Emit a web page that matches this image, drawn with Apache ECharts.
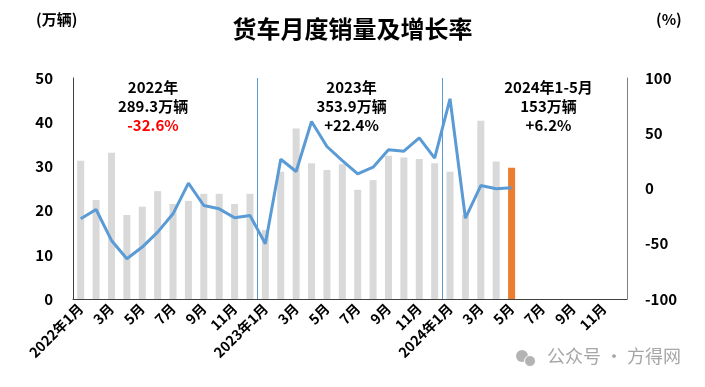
<!DOCTYPE html>
<html><head><meta charset="utf-8">
<script src="https://cdn.jsdelivr.net/npm/echarts/dist/echarts.min.js"></script>
<style>html,body{margin:0;padding:0;background:#fff}#c{width:705px;height:387px}</style>
</head><body><div id="c"></div>
<script>
const months = [
 '2022年1月','2022年2月','2022年3月','2022年4月','2022年5月','2022年6月','2022年7月','2022年8月','2022年9月','2022年10月','2022年11月','2022年12月',
 '2023年1月','2023年2月','2023年3月','2023年4月','2023年5月','2023年6月','2023年7月','2023年8月','2023年9月','2023年10月','2023年11月','2023年12月',
 '2024年1月','2024年2月','2024年3月','2024年4月','2024年5月','2024年6月','2024年7月','2024年8月','2024年9月','2024年10月','2024年11月','2024年12月'];
const sales = [31.3,22.4,33.1,19.0,20.9,24.4,21.5,22.2,23.8,23.8,21.5,23.8,
  15.6,28.8,38.6,30.7,29.2,30.5,24.7,26.9,32.4,32.0,31.7,30.7,
  28.8,19.0,40.3,31.1,29.7,null,null,null,null,null,null,null];
const growth = [-27.4,-19.0,-47.0,-63.6,-53.0,-39.5,-22.9,4.8,-15.4,-18.4,-26.5,-24.4,
  -50.0,26.5,15.4,60.6,38.0,25.3,13.3,19.3,35.0,33.8,45.9,27.5,
  81.2,-26.9,2.7,-0.3,0.6,null,null,null,null,null,null,null];
const highlightMonth = '2024年5月';
const yearBreaks = [12, 24];
const leftTicks = {min:0, max:50, interval:10};
const rightTicks = {min:-100, max:100, interval:50};
const notes = [
  {lines:['2022年','289.3万辆','-32.6%'], red:true, at:5.2},
  {lines:['2023年','353.9万辆','+22.4%'], red:false, at:18.1},
  {lines:['2024年1-5月','153万辆','+6.2%'], red:false, at:30.9}
];

const FONT = '"Noto Sans CJK SC","Noto Sans",sans-serif';
const chart = echarts.init(document.getElementById('c'), null, {renderer:'canvas'});

const barData = sales.map((v,i)=> months[i]===highlightMonth
  ? {value:v, itemStyle:{color:'#ed7d31'}} : v);

const option = {
  animation:false,
  backgroundColor:'#fff',
  textStyle:{fontFamily:FONT},
  grid:{left:73, right:78, top:78, bottom:88, outerBoundsMode:'none', containLabel:false},
  graphic:[
    {type:'text', left:'center', top:17, style:{text:'货车月度销量及增长率', font:'bold 24px '+FONT, fill:'#000'}},
    {type:'text', left:36, top:12, style:{text:'(万辆)', font:'bold 15px '+FONT, fill:'#000'}},
    {type:'text', left:656, top:12, style:{text:'(%)', font:'bold 15px '+FONT, fill:'#000'}},
    {type:'circle', shape:{cx:522, cy:356, r:6}, style:{fill:'#b3b3b3'}},
    {type:'circle', shape:{cx:530, cy:361, r:5.5}, style:{fill:'#b3b3b3', stroke:'#fff', lineWidth:1}},
    {type:'text', left:547, top:347, style:{text:'公众号 · 方得网', font:'18px '+FONT, fill:'#a6a6a6'}}
  ],
  xAxis:[
    {type:'category', data:months, boundaryGap:true,
     axisLine:{show:true, lineStyle:{color:'#404040', width:1}},
     axisTick:{show:false},
     axisLabel:{interval:1, rotate:45, margin:7, color:'#000', fontWeight:'bold', fontSize:14, fontFamily:FONT,
       formatter:(v)=>{const m=v.split('年')[1]; return m==='1月'? v : m;}},
     splitLine:{show:false}},
    {type:'value', min:0, max:36, show:false}
  ],
  yAxis:[
    {type:'value', min:leftTicks.min, max:leftTicks.max, interval:leftTicks.interval, position:'left',
     axisLine:{show:true, lineStyle:{color:'#404040'}}, axisTick:{show:false}, splitLine:{show:false},
     axisLabel:{color:'#000', fontWeight:'bold', fontSize:15, margin:20, fontFamily:FONT}},
    {type:'value', min:rightTicks.min, max:rightTicks.max, interval:rightTicks.interval, position:'right',
     axisLine:{show:true, lineStyle:{color:'#7f7f7f'}}, axisTick:{show:false}, splitLine:{show:false},
     axisLabel:{color:'#000', fontWeight:'bold', fontSize:15, margin:18, fontFamily:FONT}}
  ],
  series:[
    {type:'bar', name:'销量', data:barData, xAxisIndex:0, yAxisIndex:0, barWidth:7,
     itemStyle:{color:'#d9d9d9'}, z:2},
    {type:'line', name:'增长率', data:growth, xAxisIndex:0, yAxisIndex:1, showSymbol:false, symbol:'none',
     lineStyle:{color:'#5b9bd5', width:3}, z:4},
    {type:'scatter', name:'notes', xAxisIndex:1, yAxisIndex:0, symbolSize:0, silent:true, z:5,
     itemStyle:{opacity:1},
     data: notes.map(n=>({value:[n.at, 50], note:n})),
     markLine:{silent:true, symbol:['none','none'], label:{show:false}, animation:false,
       lineStyle:{color:'#5b9bd5', width:1, type:'solid', opacity:1},
       emphasis:{disabled:true},
       data: yearBreaks.map(b=>({xAxis:b}))},
     label:{show:true, position:'bottom', distance:0, align:'center', lineHeight:19,
       color:'#000', fontWeight:'bold', fontSize:15, opacity:1,
       formatter:(p)=>{const n=p.data.note; return '{a|'+n.lines[0]+'}\n{a|'+n.lines[1]+'}\n{'+(n.red?'r':'a')+'|'+n.lines[2]+'}';},
       rich:{a:{fontSize:15, fontWeight:'bold', color:'#000', lineHeight:19, fontFamily:FONT},
             r:{fontSize:15, fontWeight:'bold', color:'#ff0000', lineHeight:19, fontFamily:FONT}}}}
  ]
};
chart.setOption(option);
</script></body></html>
